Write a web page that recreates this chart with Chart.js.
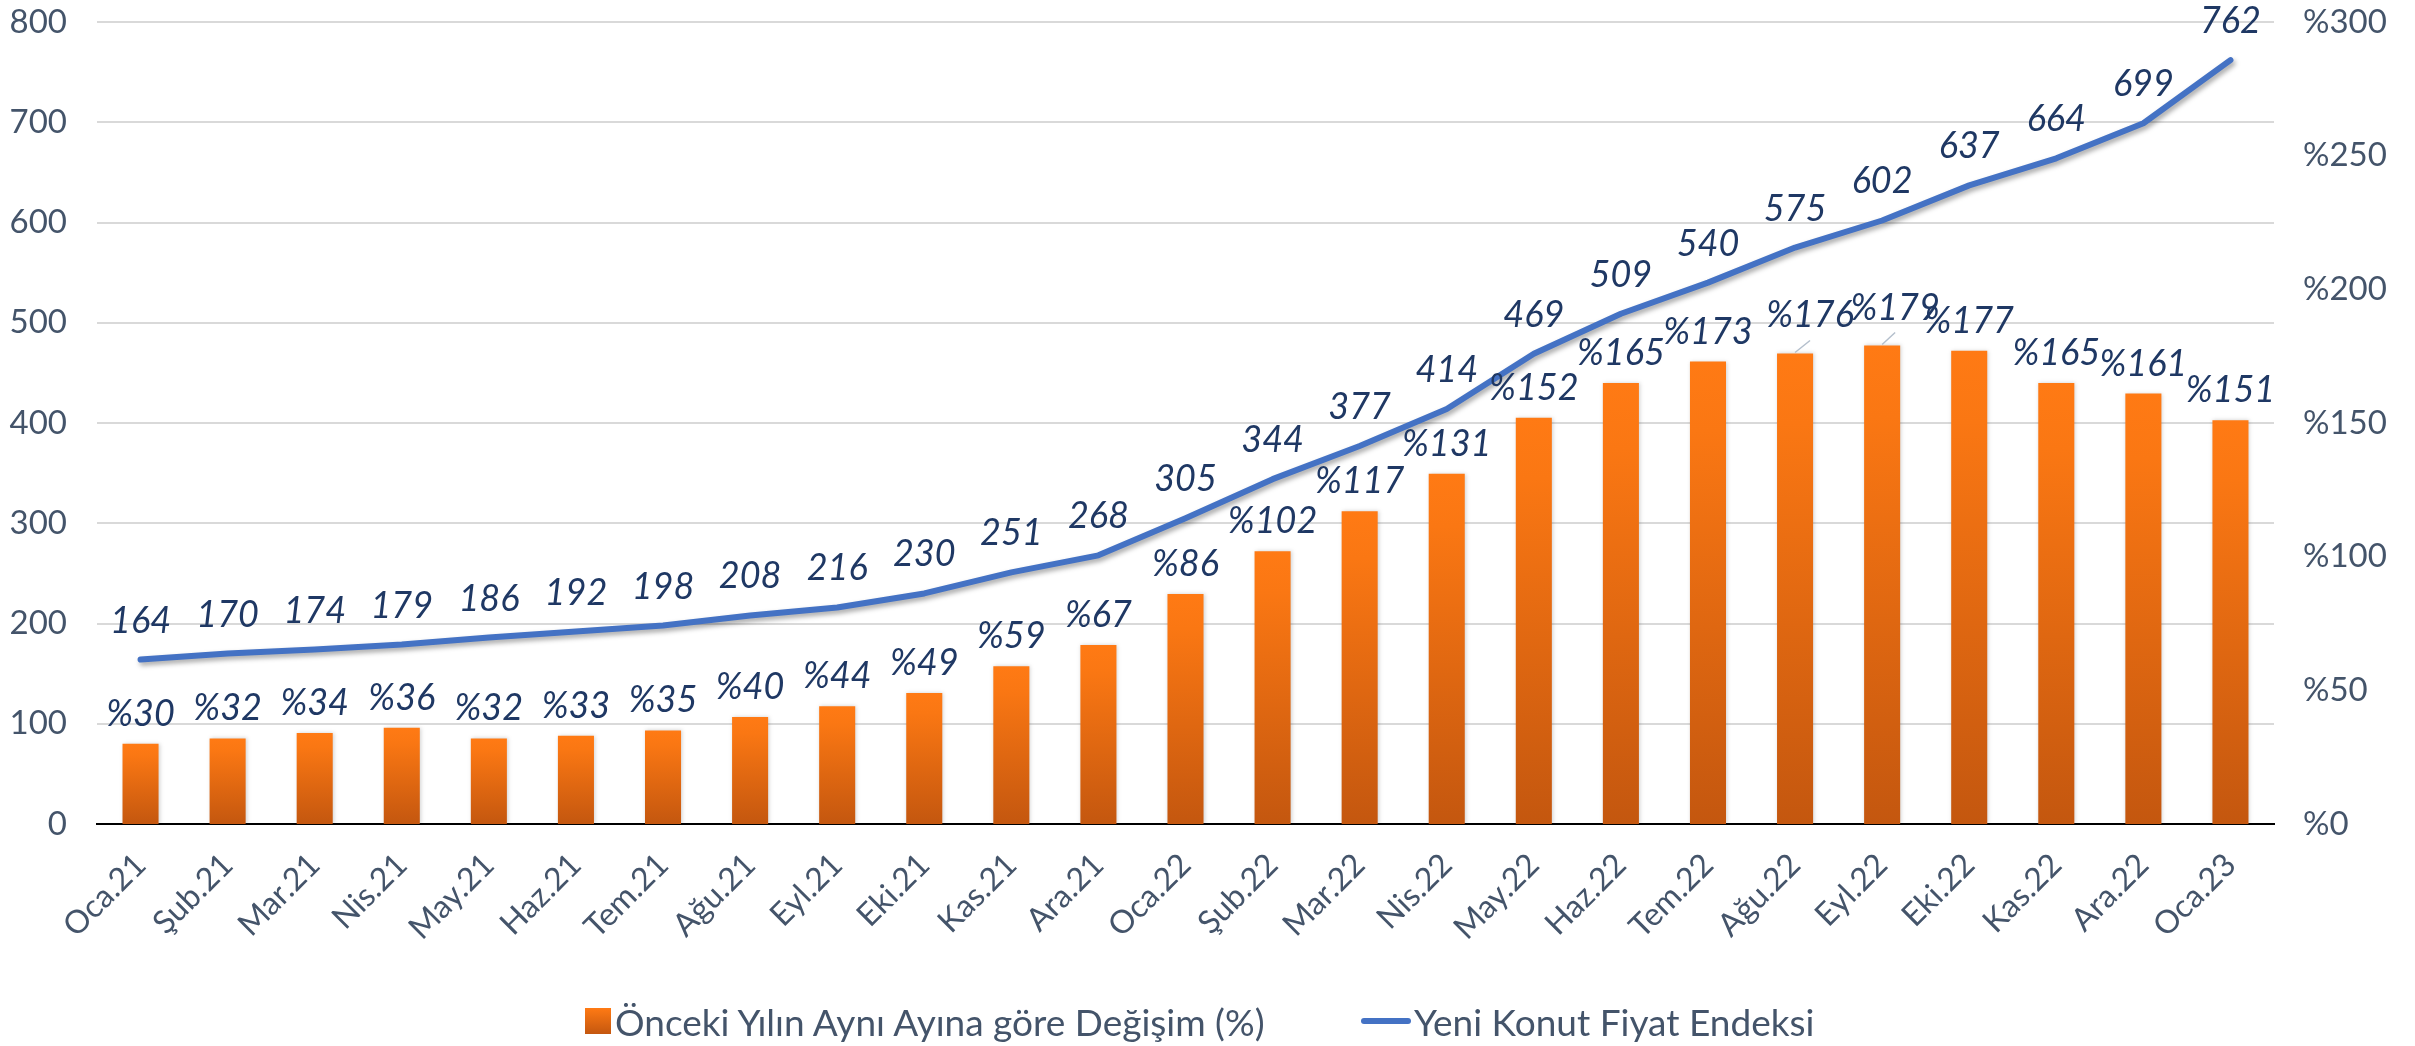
<!DOCTYPE html>
<html lang="tr">
<head>
<meta charset="utf-8">
<title>Yeni Konut Fiyat Endeksi</title>
<script src="https://cdn.jsdelivr.net/npm/chart.js@4.4.1/dist/chart.umd.min.js"></script>
<style>
  html, body { margin: 0; padding: 0; background: #fff; }
  #wrap { position: relative; width: 2415px; height: 1046px; }
  #legend { position: absolute; left: 0; top: 0; width: 100%; height: 100%; pointer-events: none;
            font-family: Lato, "Open Sans", sans-serif; font-size: 37px; color: #44546A; }
  .item { position: absolute; top: 999px; height: 44px; display: flex; align-items: center; white-space: nowrap; }
  .box { width: 26px; height: 26px; margin-right: 4px; background: linear-gradient(#FF7A14, #C4570F); }
  .line { width: 50px; height: 6px; border-radius: 3px; margin-right: 3px; background: #4472C4; }
</style>
</head>
<body>
<div id="wrap">
  <canvas id="chart" width="2415" height="1046"></canvas>
  <div id="legend">
    <div class="item" style="left:585px"><span class="box"></span>Önceki Yılın Aynı Ayına göre Değişim (%)</div>
    <div class="item" style="left:1361px"><span class="line"></span>Yeni Konut Fiyat Endeksi</div>
  </div>
</div>
<script>
// --- veriler ---
const months = ['Oca.21', 'Şub.21', 'Mar.21', 'Nis.21', 'May.21', 'Haz.21', 'Tem.21', 'Ağu.21', 'Eyl.21',
  'Eki.21', 'Kas.21', 'Ara.21', 'Oca.22', 'Şub.22', 'Mar.22', 'Nis.22', 'May.22', 'Haz.22', 'Tem.22',
  'Ağu.22', 'Eyl.22', 'Eki.22', 'Kas.22', 'Ara.22', 'Oca.23'];
const yearlyChange = [30, 32, 34, 36, 32, 33, 35, 40, 44, 49, 59, 67, 86, 102, 117, 131, 152, 165, 173,
  176, 179, 177, 165, 161, 151];
const priceIndex = [164, 170, 174, 179, 186, 192, 198, 208, 216, 230, 251, 268, 305, 344, 377, 414, 469,
  509, 540, 575, 602, 637, 664, 699, 762];
const leftTicks = [0, 100, 200, 300, 400, 500, 600, 700, 800];
const rightTicks = [0, 50, 100, 150, 200, 250, 300];

const FONT = 'Lato, "Open Sans", sans-serif';
const TICK_COLOR = '#44546A';
const LABEL_COLOR = '#1F3864';

// her sütun için ayrı dikey gradyan
function barGradient(context) {
  const chart = context.chart;
  if (!chart.chartArea || context.type !== 'data') return '#F07016';
  const top = chart.scales.y2.getPixelForValue(context.raw);
  const bottom = chart.chartArea.bottom;
  const g = chart.ctx.createLinearGradient(0, top, 0, bottom);
  g.addColorStop(0, '#FF7A14');
  g.addColorStop(0.15, '#FA7713');
  g.addColorStop(1, '#C4570F');
  return g;
}

// çizgi ve sütunlara hafif gölge
const shadowPlugin = {
  id: 'shadow',
  beforeDatasetDraw(chart, args) {
    const ctx = chart.ctx;
    ctx.save();
    if (args.meta.type === 'line') {
      ctx.shadowColor = 'rgba(0,0,0,0.35)';
      ctx.shadowBlur = 5;
      ctx.shadowOffsetX = 2;
      ctx.shadowOffsetY = 3;
    } else {
      ctx.shadowColor = 'rgba(0,0,0,0.18)';
      ctx.shadowBlur = 4;
      ctx.shadowOffsetX = 1;
      ctx.shadowOffsetY = 0;
    }
  },
  afterDatasetDraw(chart) {
    chart.ctx.restore();
  }
};

// veri etiketleri (datalabels eklentisi yok, elle çiziyoruz)
// Ağu.22 ve Eyl.22 etiketleri kaydırılmış, kılavuz çizgili
const nudge = { 19: [15, -8], 20: [13, -7] };
const valueLabels = {
  id: 'valueLabels',
  afterDatasetsDraw(chart) {
    const ctx = chart.ctx;
    ctx.save();
    ctx.font = 'italic 36px ' + FONT;
    ctx.fillStyle = LABEL_COLOR;
    ctx.textAlign = 'center';
    ctx.textBaseline = 'alphabetic';
    chart.data.datasets.forEach((ds, di) => {
      const meta = chart.getDatasetMeta(di);
      meta.data.forEach((el, i) => {
        if (meta.type === 'bar') {
          let x = el.x, y = el.y - 18;
          const n = nudge[i];
          if (n) {
            ctx.save();
            ctx.strokeStyle = '#B4BFCC';
            ctx.lineWidth = 1.5;
            ctx.beginPath();
            ctx.moveTo(el.x, el.y - 1);
            ctx.lineTo(el.x + n[0], el.y - 13);
            ctx.stroke();
            ctx.restore();
            x += n[0];
            y += n[1];
          }
          ctx.fillText('%' + ds.data[i], x, y);
        } else {
          ctx.fillText(String(ds.data[i]), el.x, el.y - 27);
        }
      });
    });
    ctx.restore();
  }
};

// dikey eksenlerin üst/alt boşluğunu sabitle
function fixVertical(width) {
  return function (scale) {
    scale.width = width;
    scale.paddingTop = 22;
    scale.paddingBottom = 0;
  };
}

const canvas = document.getElementById('chart');
new Chart(canvas.getContext('2d'), {
  data: {
    labels: months,
    datasets: [
      {
        type: 'line',
        label: 'Yeni Konut Fiyat Endeksi',
        data: priceIndex,
        yAxisID: 'y',
        borderColor: '#4472C4',
        borderWidth: 6,
        borderCapStyle: 'round',
        borderJoinStyle: 'round',
        pointRadius: 0,
        tension: 0,
        order: 0
      },
      {
        type: 'bar',
        label: 'Önceki Yılın Aynı Ayına göre Değişim (%)',
        data: yearlyChange,
        yAxisID: 'y2',
        backgroundColor: barGradient,
        categoryPercentage: 1,
        barPercentage: 0.414,
        order: 1
      }
    ]
  },
  options: {
    responsive: false,
    animation: false,
    layout: { padding: 0 },
    plugins: {
      legend: { display: false },
      tooltip: { enabled: false }
    },
    scales: {
      x: {
        offset: true,
        grid: { display: false, drawTicks: false },
        border: { display: true, color: '#000000', width: 2 },
        ticks: {
          color: TICK_COLOR,
          font: { family: FONT, size: 32 },
          minRotation: 45,
          maxRotation: 45,
          padding: 22,
          autoSkip: false
        },
        afterFit(scale) { scale.height = 222; }
      },
      y: {
        position: 'left',
        min: 0,
        max: 800,
        afterBuildTicks(scale) { scale.ticks = leftTicks.map(v => ({ value: v })); },
        grid: { color: '#D9D9D9', lineWidth: 2, drawTicks: false },
        border: { display: false },
        ticks: {
          color: TICK_COLOR,
          font: { family: FONT, size: 33 },
          padding: 30
        },
        afterFit: fixVertical(97)
      },
      y2: {
        position: 'right',
        min: 0,
        max: 300,
        afterBuildTicks(scale) { scale.ticks = rightTicks.map(v => ({ value: v })); },
        grid: { display: false, drawTicks: false },
        border: { display: false },
        ticks: {
          color: TICK_COLOR,
          font: { family: FONT, size: 33 },
          padding: 29,
          callback: v => '%' + v
        },
        afterFit: fixVertical(141)
      }
    }
  },
  plugins: [shadowPlugin, valueLabels]
});
</script>
</body>
</html>
